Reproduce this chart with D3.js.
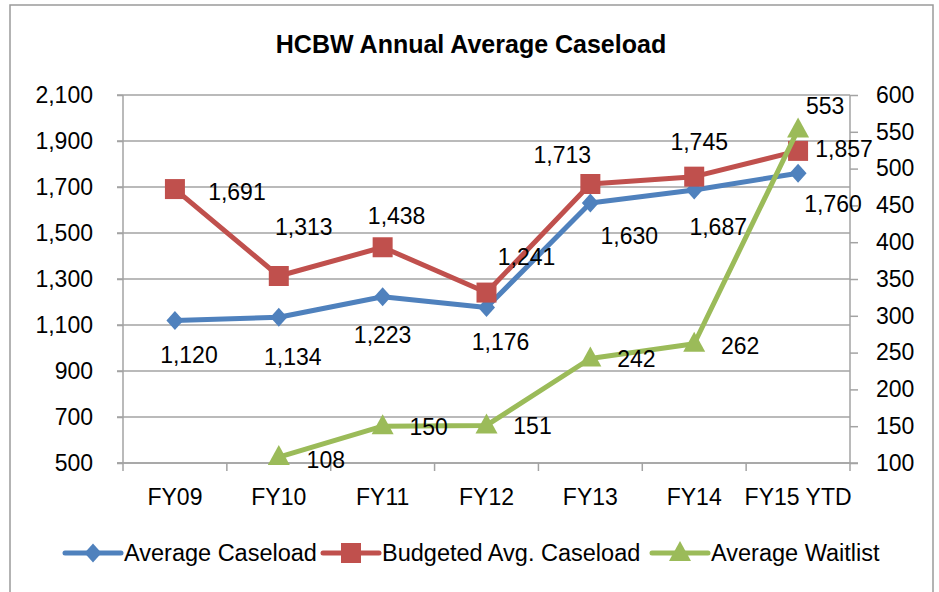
<!DOCTYPE html>
<html>
<head>
<meta charset="utf-8">
<script src="https://cdn.jsdelivr.net/npm/d3@7"></script>
<style>
  body { margin: 0; background: #fff; }
  svg { display: block; font-family: "Liberation Sans", Arial, sans-serif; }
  .axis path { display: none; }
  .axis text { font-size: 23px; fill: #000; }
</style>
</head>
<body>
<svg id="chart" width="939" height="592"></svg>
<script>
// data
const categories = ['FY09', 'FY10', 'FY11', 'FY12', 'FY13', 'FY14', 'FY15 YTD'];
const averageCaseload = [1120, 1134, 1223, 1176, 1630, 1687, 1760];
const budgetedCaseload = [1691, 1313, 1438, 1241, 1713, 1745, 1857];
const averageWaitlist = [null, 108, 150, 151, 242, 262, 553];
const leftTicks = [500, 700, 900, 1100, 1300, 1500, 1700, 1900, 2100];
const rightTicks = [100, 150, 200, 250, 300, 350, 400, 450, 500, 550, 600];

// where each data label sits relative to its point (hand placed in the original)
const blueLabelOffsets = [[14, 35], [14, 40], [0, 38], [14, 34], [39, 33], [24, 37], [35, 31]];
const redLabelOffsets = [[62, 3], [25, -49], [14, -31], [40, -36], [-28, -29], [5, -35], [46, -2]];
const greenLabelOffsets = [null, [47, 3], [46, 1], [46, 1], [46, 1], [46, 2], [27, -24]];
// left edge of each legend entry
const legendX = [65, 323, 652];

const colors = { blue: '#4F81BD', red: '#C0504D', green: '#9BBB59', grid: '#a3a3a3' };

const svg = d3.select('#chart');

const plot = { left: 123, right: 850, top: 95, bottom: 463 };

// outer frame
svg.append('rect')
  .attr('x', 10).attr('y', 5)
  .attr('width', 923).attr('height', 620)
  .attr('fill', 'none')
  .attr('stroke', '#9a9a9a')
  .attr('stroke-width', 1.5);

svg.append('text')
  .attr('x', 471).attr('y', 53)
  .attr('text-anchor', 'middle')
  .style('font-size', '25px')
  .style('font-weight', 'bold')
  .text('HCBW Annual Average Caseload');

const x = d3.scaleBand()
  .domain(categories)
  .range([plot.left, plot.right]);
const yLeft = d3.scaleLinear()
  .domain([500, 2100])
  .range([plot.bottom, plot.top]);
const yRight = d3.scaleLinear()
  .domain([100, 600])
  .range([plot.bottom, plot.top]);
const cx = c => x(c) + x.bandwidth() / 2;

// gridlines
svg.append('g')
  .selectAll('line')
  .data(leftTicks)
  .enter()
  .append('line')
  .attr('x1', plot.left - 6)
  .attr('x2', plot.right)
  .attr('y1', d => yLeft(d))
  .attr('y2', d => yLeft(d))
  .attr('stroke', colors.grid)
  .attr('stroke-width', 1.5);

svg.append('g')
  .attr('class', 'axis')
  .attr('transform', `translate(${plot.left}, 0)`)
  .call(d3.axisLeft(yLeft).tickValues(leftTicks).tickFormat(d3.format(',')).tickSize(6).tickPadding(24));

svg.append('g')
  .attr('class', 'axis')
  .attr('transform', `translate(${plot.right}, 0)`)
  .call(d3.axisRight(yRight).tickValues(rightTicks).tickSize(8).tickPadding(18));

svg.append('g')
  .attr('class', 'axis')
  .attr('transform', `translate(0, ${plot.bottom})`)
  .call(d3.axisBottom(x).tickSize(0).tickPadding(26));

svg.selectAll('.axis line').attr('stroke', colors.grid).attr('stroke-width', 1.5);

// axis lines and category boundary ticks
const axisLines = svg.append('g').attr('stroke', colors.grid).attr('stroke-width', 1.5);
axisLines.append('line')
  .attr('x1', plot.left).attr('x2', plot.left)
  .attr('y1', plot.top).attr('y2', plot.bottom + 8);
axisLines.append('line')
  .attr('x1', plot.right).attr('x2', plot.right)
  .attr('y1', plot.top).attr('y2', plot.bottom + 8);
axisLines.append('line')
  .attr('x1', plot.left - 6).attr('x2', plot.right + 8)
  .attr('y1', plot.bottom).attr('y2', plot.bottom);
axisLines.selectAll('.xtick')
  .data(categories.slice(1))
  .enter()
  .append('line')
  .attr('x1', d => x(d)).attr('x2', d => x(d))
  .attr('y1', plot.bottom).attr('y2', plot.bottom + 8);

// marker shapes
const markerPath = {
  diamond: 'M0,-9.5L8.5,0L0,9.5L-8.5,0Z',
  square: 'M-10,-10H10V10H-10Z',
  triangle: 'M0,-12L11,8H-11Z'
};

const series = [
  { name: 'Average Caseload', values: averageCaseload, y: yLeft, color: colors.blue, marker: 'diamond', offsets: blueLabelOffsets },
  { name: 'Budgeted Avg. Caseload', values: budgetedCaseload, y: yLeft, color: colors.red, marker: 'square', offsets: redLabelOffsets },
  { name: 'Average Waitlist', values: averageWaitlist, y: yRight, color: colors.green, marker: 'triangle', offsets: greenLabelOffsets }
];

series.forEach(s => {
  const pts = s.values
    .map((v, i) => ({ v, c: categories[i], off: s.offsets[i] }))
    .filter(p => p.v !== null);

  const line = d3.line()
    .x(p => cx(p.c))
    .y(p => s.y(p.v));

  const g = svg.append('g');
  g.append('path')
    .datum(pts)
    .attr('d', line)
    .attr('fill', 'none')
    .attr('stroke', s.color)
    .attr('stroke-width', 5)
    .attr('stroke-linejoin', 'round');

  g.selectAll('.marker')
    .data(pts)
    .enter()
    .append('path')
    .attr('d', markerPath[s.marker])
    .attr('transform', p => `translate(${cx(p.c)}, ${s.y(p.v)})`)
    .attr('fill', s.color);

  s.labels = pts;
});

// data labels drawn above all lines
series.forEach(s => {
  svg.append('g')
    .selectAll('text')
    .data(s.labels)
    .enter()
    .append('text')
    .attr('x', p => cx(p.c) + p.off[0])
    .attr('y', p => s.y(p.v) + p.off[1])
    .attr('text-anchor', 'middle')
    .attr('dominant-baseline', 'central')
    .style('font-size', '23px')
    .text(p => d3.format(',')(p.v));
});

// legend
const legend = svg.append('g').attr('transform', 'translate(0, 553)');
series.forEach((s, i) => {
  const lx = legendX[i];
  const item = legend.append('g');
  item.append('line')
    .attr('x1', lx).attr('x2', lx + 56)
    .attr('y1', 0).attr('y2', 0)
    .attr('stroke', s.color)
    .attr('stroke-width', 5)
    .attr('stroke-linecap', 'round');
  item.append('path')
    .attr('d', markerPath[s.marker])
    .attr('transform', `translate(${lx + 28}, 0)`)
    .attr('fill', s.color);
  item.append('text')
    .attr('x', lx + 59)
    .attr('y', 0)
    .attr('dominant-baseline', 'central')
    .style('font-size', '23.5px')
    .text(s.name);
});
</script>
</body>
</html>
